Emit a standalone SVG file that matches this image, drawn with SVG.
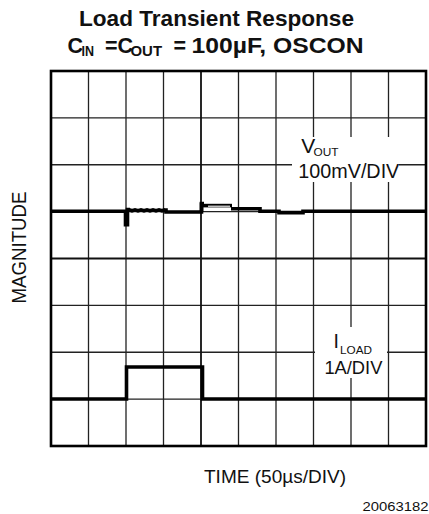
<svg xmlns="http://www.w3.org/2000/svg" width="429" height="514" viewBox="0 0 429 514">
<style>
text{font-family:"Liberation Sans",Arial,Helvetica,sans-serif;fill:#111}
.b{font-weight:bold}
.g{stroke:#222;stroke-width:1.3;fill:none}
.gc{stroke:#111;stroke-width:1.8;fill:none}
.tr{stroke:#000;stroke-width:3.6;fill:none;stroke-linejoin:miter;stroke-linecap:butt}
</style>
<rect width="429" height="514" fill="#fff"/>
<g id="title">
<text class="b" x="216.5" y="26" font-size="22.5" text-anchor="middle" textLength="275" lengthAdjust="spacingAndGlyphs">Load Transient Response</text>
<text class="b" y="52.8" font-size="21.5"><tspan x="67.5">C</tspan><tspan x="81.5" y="55.5" font-size="14" textLength="12.5" lengthAdjust="spacingAndGlyphs">IN</tspan><tspan x="105" y="52.8">=C</tspan><tspan x="130.5" y="55.5" font-size="14" textLength="31.5" lengthAdjust="spacingAndGlyphs">OUT</tspan><tspan x="173.5" y="52.8">=</tspan><tspan x="191.5" textLength="172" lengthAdjust="spacingAndGlyphs">100µF, OSCON</tspan></text>
</g>
<g id="grid">
<path class="g" d="M88.5 71V446M126 71V446M163.5 71V446M238.5 71V446M276 71V446M313.5 71V446M351 71V446M388.5 71V446M51 117.9H426M51 164.75H426M51 211.6H426M51 305.4H426M51 352.25H426M51 399.1H426"/>
<path class="gc" d="M201 71V446M51 258.5H426"/>
<rect x="51" y="71" width="375" height="375" fill="none" stroke="#000" stroke-width="2.6"/>
</g>
<g id="vout-label">
<rect x="292" y="137" width="107" height="45" fill="#fff"/>
<text x="301.3" y="153" font-size="21">V</text>
<text x="313.5" y="156" font-size="11" textLength="25" lengthAdjust="spacingAndGlyphs">OUT</text>
<text x="348.8" y="177.5" font-size="20" text-anchor="middle" textLength="101" lengthAdjust="spacingAndGlyphs">100mV/DIV</text>
</g>
<g id="iload-label">
<rect x="315" y="327" width="72" height="51" fill="#fff"/>
<text x="333.5" y="348" font-size="19.5">I</text>
<text x="340" y="353.8" font-size="11" textLength="32" lengthAdjust="spacingAndGlyphs">LOAD</text>
<text x="353.4" y="373.6" font-size="19" text-anchor="middle" textLength="58" lengthAdjust="spacingAndGlyphs">1A/DIV</text>
</g>
<g id="traces">
<path id="vout" class="tr" d="M51 211.2H125.5V226.5M127.5 226.5V209.5H130"/>
<path class="tr" stroke-width="2.8" d="M129 209.8l3 1l3 -1l3 1l3 -1l3 1l3 -1l3 1l3 -1l3 1l3 -1l3 1l3 -1"/>
<path class="tr" d="M164 210H166V212H201.5V203.5H204"/>
<path class="tr" stroke-width="3.2" d="M201.5 212V202.5"/>
<path class="tr" stroke-width="4.6" d="M203 205.6H232"/>
<path d="M208 206.2H230" stroke="#fff" stroke-width="1.1"/>
<path class="tr" d="M231 208.8H260V211.2H279V212.6H303V211.2H426"/>
<path id="iload" class="tr" d="M51 399H126.5V367H202.5V399H426"/>
</g>
<g id="axes">
<text transform="translate(25.5 247.5) rotate(-90)" font-size="21" text-anchor="middle" textLength="112" lengthAdjust="spacingAndGlyphs">MAGNITUDE</text>
<text x="275" y="483" font-size="18.5" text-anchor="middle" textLength="142" lengthAdjust="spacingAndGlyphs">TIME (50µs/DIV)</text>
<text x="428.5" y="510.7" font-size="13" text-anchor="end" textLength="66" lengthAdjust="spacingAndGlyphs">20063182</text>
</g>
</svg>
